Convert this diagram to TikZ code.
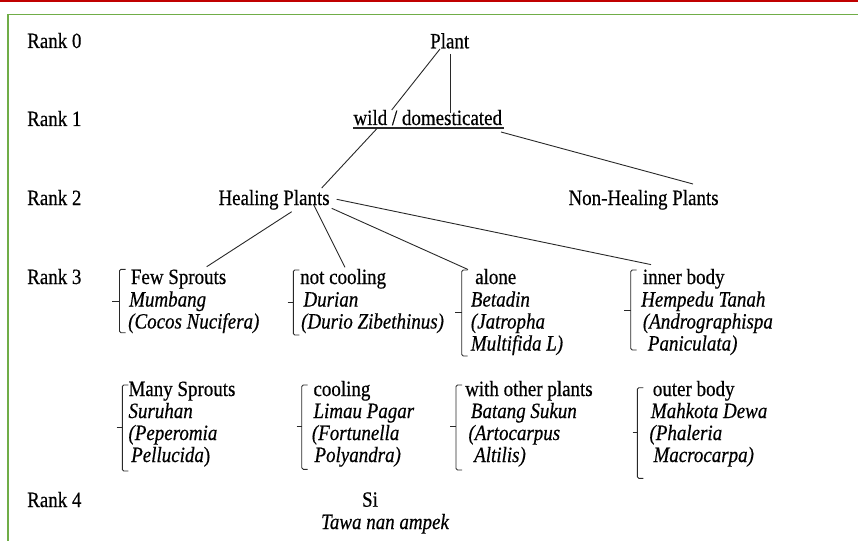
\documentclass[tikz,border=0pt]{standalone}
\usepackage{fontspec}
\setmainfont{Liberation Serif}[FakeStretch=0.87,FakeBold=0.5]
\definecolor{frameGreen}{RGB}{112,173,71}
\definecolor{topRed}{RGB}{192,0,0}
\definecolor{inkC}{RGB}{40,40,40}
\newcommand\brk[5]{%
  \draw[brack] ({#1+6},#2) -- (#1,#2) -- (#1,#3) -- ({#1+6},#3);
  \draw[brack] (#5,#4) -- (#1,#4);}
\begin{document}
\begin{tikzpicture}[x=1pt,y=-1pt,
  txt/.style={inner sep=0pt, anchor=base west, text=black, font=\fontsize{21.8}{22}\selectfont},
  ctxt/.style={inner sep=0pt, anchor=base, text=black, font=\fontsize{21.8}{22}\selectfont},
  link/.style={draw=inkC, line width=0.9pt},
  brack/.style={draw=inkC, line width=0.9pt, rounded corners=1.5pt}]
\useasboundingbox (0,0) rectangle (858,540);
% page decorations
\fill[topRed] (0,0) rectangle (858,2.5);
\draw[frameGreen, line width=1.8pt] (858,14.5) -- (8,14.5) -- (8,541);
% rank labels
\node[txt] (r0) at (27,48) {Rank 0};
\node[txt] (r1) at (27,126) {Rank 1};
\node[txt] (r2) at (27,205) {Rank 2};
\node[txt] (r3) at (27,284) {Rank 3};
\node[txt] (r4) at (27,507) {Rank 4};
% upper tree
\node[txt] (plant) at (430,48.3) {Plant};
\node[txt] (wild) at (353.3,125) {wild / domesticated};
\draw[inkC, line width=1.1pt] (353.3,128) -- (504,128);
\node[txt] (heal) at (218.3,205) {Healing Plants};
\node[txt] (nonheal) at (568.3,205) {Non-Healing Plants};
% connector end points
\coordinate (pA) at (440,49);
\coordinate (pB) at (450.7,54);
\coordinate (wA) at (391.7,110);
\coordinate (wB) at (450.7,113);
\coordinate (wC) at (377,128.5);
\coordinate (wD) at (501,132);
\coordinate (hA) at (321.7,188);
\coordinate (nA) at (693,184);
\coordinate (h1) at (291.7,211.7);
\coordinate (h2) at (313.3,204);
\coordinate (h3) at (331.7,208.3);
\coordinate (h4) at (336.7,199.3);
\coordinate (b1) at (206.7,266.7);
\coordinate (b2) at (345,267.3);
\coordinate (b3) at (468,269.5);
\coordinate (b4) at (651,264.6);
\draw[link] (pA) -- (wA);
\draw[link] (pB) -- (wB);
\draw[link] (wC) -- (hA);
\draw[link] (wD) -- (nA);
\draw[link] (h1) -- (b1);
\draw[link] (h2) -- (b2);
\draw[link] (h3) -- (b3);
\draw[link] (h4) -- (b4);
% brackets
\brk{119.5}{269.3}{332.7}{301.7}{112}
\brk{293.3}{270}{335}{302.7}{287.7}
\brk{461.7}{270}{356}{312.3}{455}
\brk{630.7}{270}{350}{310.7}{624}
\brk{122.3}{385}{471}{427.3}{116.7}
\brk{301.7}{385}{469.3}{426.7}{296.7}
\brk{456}{385}{470}{426.7}{450}
\brk{637.3}{387.7}{478.3}{432.3}{632.7}
% row 3 blocks
\node[txt] (a1) at (130.7,284) {Few Sprouts};
\node[txt] (a2) at (129,306.5) {\itshape Mumbang};
\node[txt] (a3) at (128,328.5) {\itshape (Cocos Nucifera)};
\node[txt] (c1) at (300,284) {not cooling};
\node[txt] (c2) at (303.3,306.5) {\itshape Durian};
\node[txt] (c3) at (301,328.5) {\itshape (Durio Zibethinus)};
\node[txt] (e1) at (475,284) {alone};
\node[txt] (e2) at (470.7,306.5) {\itshape Betadin};
\node[txt] (e3) at (470.7,328.5) {\itshape (Jatropha};
\node[txt] (e4) at (470.7,350.5) {\itshape Multifida L)};
\node[txt] (g1) at (642.7,284) {inner body};
\node[txt] (g2) at (641,306.5) {\itshape Hempedu Tanah};
\node[txt] (g3) at (642.7,328.5) {\itshape (Andrographispa};
\node[txt] (g4) at (647.7,350.5) {\itshape Paniculata)};
% row 2 blocks
\node[txt] (m1) at (128.3,396) {Many Sprouts};
\node[txt] (m2) at (128.3,418) {\itshape Suruhan};
\node[txt] (m3) at (128.3,440) {\itshape (Peperomia};
\node[txt] (m4) at (131,462) {\textit{Pellucida})};
\node[txt] (k1) at (313.3,396) {cooling};
\node[txt] (k2) at (313.3,418) {\itshape Limau Pagar};
\node[txt] (k3) at (311.7,440) {\itshape (Fortunella};
\node[txt] (k4) at (314.3,462) {\itshape Polyandra)};
\node[txt] (o1) at (465,396) {with other plants};
\node[txt] (o2) at (470.7,418) {\itshape Batang Sukun};
\node[txt] (o3) at (468.3,440) {\itshape (Artocarpus};
\node[txt] (o4) at (474,462) {\itshape Altilis)};
\node[txt] (q1) at (652.7,396) {outer body};
\node[txt] (q2) at (650.7,418) {\itshape Mahkota Dewa};
\node[txt] (q3) at (649.3,440) {\itshape (Phaleria};
\node[txt] (q4) at (653.3,462) {\itshape Macrocarpa)};
% rank 4
\node[ctxt] (si) at (370,506.7) {Si};
\node[ctxt] (tawa) at (385,529) {\itshape Tawa nan ampek};
\end{tikzpicture}
\end{document}
